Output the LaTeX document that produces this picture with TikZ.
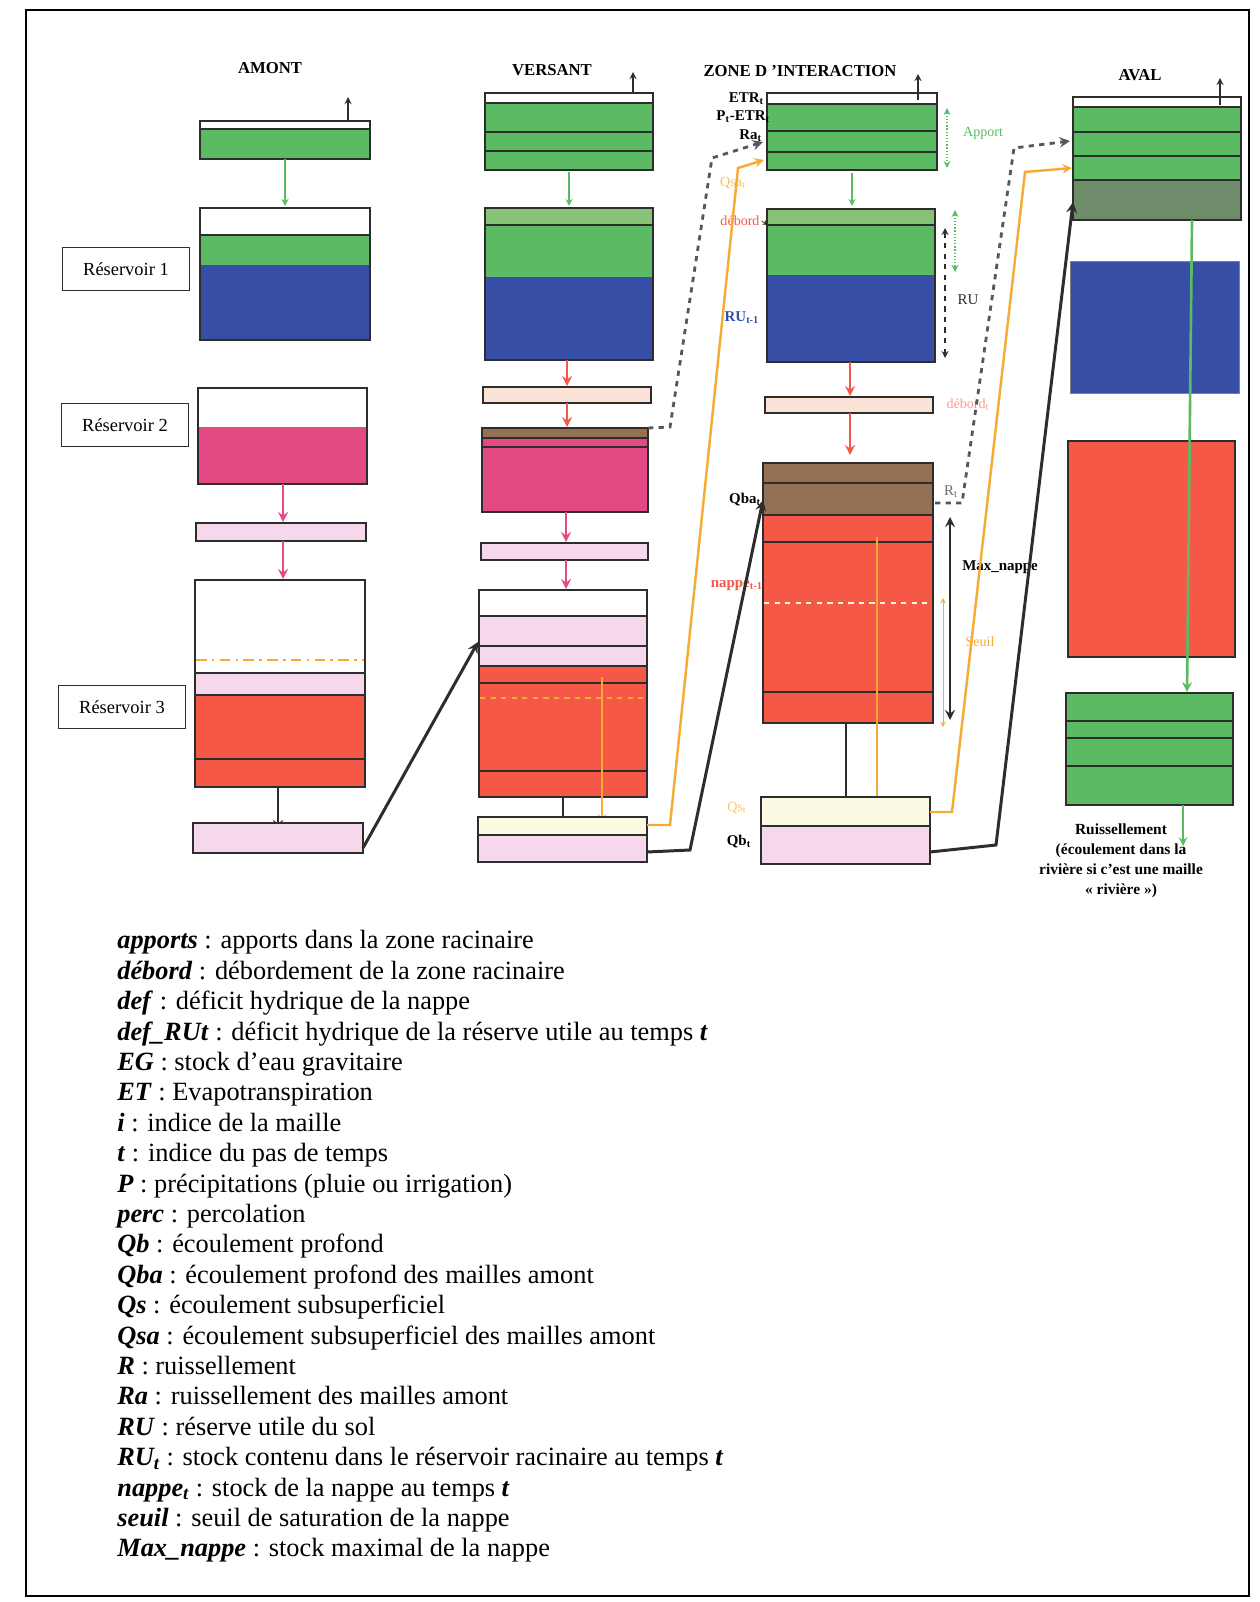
\documentclass[tikz,border=0pt]{standalone}
\usepackage{fontspec}
\setmainfont{Liberation Serif}
\usepackage{tikz}
\usetikzlibrary{arrows,positioning}

\definecolor{leaf}{RGB}{92,186,100}
\definecolor{leaflight}{RGB}{136,194,118}
\definecolor{moss}{RGB}{110,140,106}
\definecolor{soilblue}{RGB}{54,78,166}
\definecolor{fuchsia}{RGB}{226,74,132}
\definecolor{palepink}{RGB}{246,216,236}
\definecolor{tomato}{RGB}{246,88,72}
\definecolor{umber}{RGB}{150,112,82}
\definecolor{peach}{RGB}{250,226,214}
\definecolor{cream}{RGB}{252,250,226}
\definecolor{amber}{RGB}{246,172,52}
\definecolor{darkline}{RGB}{45,45,45}

\newcommand{\lgterm}[1]{\textbf{\textit{#1}}}

\begin{document}
\begin{tikzpicture}[x=0.02cm, y=-0.02cm,
  box/.style={draw=darkline, line width=1.1pt},
  sep/.style={draw=darkline, line width=1.1pt},
  flow/.style={-stealth, line width=1.7pt, darkline},
  title/.style={font=\fontsize{9.5}{11}\selectfont\bfseries},
  tag/.style={font=\fontsize{8.5}{10}\selectfont\bfseries, inner sep=1pt},
  resname/.style={draw=darkline, line width=1.1pt, minimum width=2.54cm, minimum height=0.86cm, font=\fontsize{10.5}{12}\selectfont},
  legend/.style={anchor=west, inner sep=0pt, font=\fontsize{15}{17}\selectfont, text height=1.6ex, text depth=0.4ex},
  note/.style={font=\fontsize{8.8}{11.4}\selectfont\bfseries, align=center}
]
\useasboundingbox (0,0) rectangle (1260,1602);
\draw[line width=0.6pt] (26,10) rectangle (1249,1596);

% titles
\node[title] (tamont) at (270,68) {AMONT};
\node[title] (tversant) at (552,70) {VERSANT};
\node[title] (tzone) at (800,71) {ZONE D 'INTERACTION};
\node[title] (taval) at (1140,75) {AVAL};

%%%%%%%%%%%%%%%% amont
\fill[leaf] (200,129) rectangle (370,159);
\draw[box] (200,121) rectangle (370,159);
\draw[sep] (200,129) -- (370,129);
\draw[-stealth, thick, darkline] (348,121) -- (348,97);
\draw[-stealth, leaf, thick] (285,159) -- (285,206);

\fill[leaf] (200,235) rectangle (370,265);
\fill[soilblue] (200,265) rectangle (370,340);
\draw[box] (200,208) rectangle (370,340);
\draw[sep] (200,235) -- (370,235);
\node[resname] (res1) at (126,269) {Réservoir 1};

\fill[fuchsia] (198,427) rectangle (367,484);
\draw[box] (198,388) rectangle (367,484);
\node[resname] (res2) at (125,425) {Réservoir 2};
\draw[-stealth, fuchsia, line width=1.5pt] (283,484) -- (283,522);
\fill[palepink] (196,523) rectangle (366,541);
\draw[box] (196,523) rectangle (366,541);
\draw[-stealth, fuchsia, line width=1.5pt] (283,541) -- (283,579);

\fill[palepink] (195,673) rectangle (365,695);
\fill[tomato] (195,695) rectangle (365,787);
\draw[box] (195,580) rectangle (365,787);
\draw[amber, line width=1pt, dash pattern=on 6pt off 3pt on 1.5pt off 3pt] (196,660) -- (364,660);
\draw[sep] (195,673) -- (365,673);
\draw[sep] (195,695) -- (365,695);
\draw[sep] (195,759) -- (365,759);
\node[resname] (res3) at (122,707) {Réservoir 3};
\draw[-stealth, darkline, line width=1.5pt] (278,787) -- (278,830);
\fill[palepink] (193,823) rectangle (363,853);
\draw[box] (193,823) rectangle (363,853);

%%%%%%%%%%%%%%%% versant
\fill[leaf] (485,103) rectangle (653,170);
\draw[box] (485,93) rectangle (653,170);
\draw[sep] (485,103) -- (653,103);
\draw[sep] (485,132) -- (653,132);
\draw[sep] (485,151) -- (653,151);
\draw[-stealth, thick, darkline] (633,93) -- (633,72);
\draw[-stealth, leaf, thick] (569,172) -- (569,206);

\fill[leaflight] (485,208) rectangle (653,225);
\fill[leaf] (485,225) rectangle (653,277);
\fill[soilblue] (485,277) rectangle (653,360);
\draw[box] (485,208) rectangle (653,360);
\draw[sep] (485,225) -- (653,225);
\draw[-stealth, tomato, line width=1.5pt] (567,360) -- (567,386);
\fill[peach] (483,387) rectangle (651,403);
\draw[box] (483,387) rectangle (651,403);
\draw[-stealth, tomato, line width=1.5pt] (567,403) -- (567,427);

\fill[umber] (482,428) rectangle (648,438);
\fill[fuchsia] (482,438) rectangle (648,512);
\draw[box] (482,428) rectangle (648,512);
\draw[sep] (482,438) -- (648,438);
\draw[sep] (482,447) -- (648,447);
\draw[-stealth, fuchsia, line width=1.5pt] (566,512) -- (566,542);
\fill[palepink] (481,543) rectangle (648,560);
\draw[box] (481,543) rectangle (648,560);
\draw[-stealth, fuchsia, line width=1.5pt] (566,560) -- (566,589);

\fill[palepink] (479,616) rectangle (647,666);
\fill[tomato] (479,666) rectangle (647,797);
\draw[box] (479,590) rectangle (647,797);
\draw[sep] (479,616) -- (647,616);
\draw[sep] (479,646) -- (647,646);
\draw[sep] (479,666) -- (647,666);
\draw[sep] (479,683) -- (647,683);
\draw[amber, line width=1pt, dashed] (480,698) -- (646,698);
\draw[sep] (479,771) -- (647,771);
\draw[-stealth, amber, line width=1.2pt] (602,677) -- (602,823);
\draw[-stealth, darkline, line width=1.5pt] (563,797) -- (563,833);
\fill[cream] (478,817) rectangle (647,835);
\fill[palepink] (478,835) rectangle (647,862);
\draw[box] (478,817) rectangle (647,862);
\draw[sep] (478,835) -- (647,835);

%%%%%%%%%%%%%%%% zone d'interaction
\fill[leaf] (767,104) rectangle (937,170);
\draw[box] (767,93) rectangle (937,170);
\draw[sep] (767,104) -- (937,104);
\draw[sep] (767,131) -- (937,131);
\draw[sep] (767,152) -- (937,152);
\draw[-stealth, thick, darkline] (918,100) -- (918,74);
\node[tag, anchor=east] (letr) at (766,99) {ETR\textsubscript{t}};
\node[tag, anchor=east] (lpetr) at (772,117) {P\textsubscript{t}-ETR\textsubscript{t}};
\node[tag, anchor=east] (lra) at (764,136) {Ra\textsubscript{t}};
\draw[stealth-stealth, leaf, densely dotted, thick] (947,108) -- (947,168);
\node[font=\fontsize{8}{10}\selectfont, text=leaf] (lapport) at (983,133) {Apport};
\draw[-stealth, leaf, thick] (852,173) -- (852,206);

\fill[leaflight] (767,209) rectangle (935,225);
\fill[leaf] (767,225) rectangle (935,275);
\fill[soilblue] (767,275) rectangle (935,362);
\draw[box] (767,209) rectangle (935,362);
\draw[sep] (767,225) -- (935,225);
\node[font=\fontsize{8}{10}\selectfont, text=amber!80] (lqsa) at (733,183) {Qsa\textsubscript{t}};
\node[font=\fontsize{8}{10}\selectfont, text=tomato, inner sep=1pt] (ldebord) at (740,221) {débord};
\draw[-stealth, darkline, thin] (ldebord.east) -- (768,225);
\node[tag, text=soilblue] (lru1) at (742,318) {RU\textsubscript{t-1}};
\draw[stealth-stealth, leaf, densely dotted, thick] (955,210) -- (955,272);
\draw[stealth-stealth, darkline, dashed, thick] (945,228) -- (945,358);
\node[font=\fontsize{8.5}{10}\selectfont, text=darkline] (lru) at (968,300) {RU};
\draw[-stealth, tomato, line width=1.5pt] (850,362) -- (850,396);
\fill[peach] (765,397) rectangle (933,413);
\draw[box] (765,397) rectangle (933,413);
\node[font=\fontsize{8}{10}\selectfont, text=tomato!60] (ldebt) at (968,405) {débord\textsubscript{t}};
\draw[-stealth, tomato, line width=1.5pt] (850,413) -- (850,455);

\fill[umber] (763,463) rectangle (933,515);
\fill[tomato] (763,515) rectangle (933,723);
\draw[box] (763,463) rectangle (933,723);
\draw[sep] (763,483) -- (933,483);
\draw[sep] (763,515) -- (933,515);
\draw[sep] (763,542) -- (933,542);
\draw[cream, line width=1pt, dashed] (764,603) -- (932,603);
\draw[sep] (763,692) -- (933,692);
\node[tag, anchor=east] (lqba) at (763,500) {Qba\textsubscript{t}};
\node[tag, anchor=east, text=tomato] (lnappe) at (765,586) {nappe\textsubscript{t-1}};
\node[font=\fontsize{8.5}{10}\selectfont, text=darkline!70] (lr) at (951,492) {R\textsubscript{t}};
\draw[stealth-stealth, line width=1.5pt, darkline] (950,517) -- (950,720);
\node[tag] (lmax) at (1000,567) {Max\_nappe};
\draw[stealth-stealth, amber, thin] (943,598) -- (943,727);
\node[font=\fontsize{8}{10}\selectfont, text=amber] (lseuil) at (980,642) {Seuil};
\draw[-stealth, amber, line width=1.2pt] (877,537) -- (877,812);
\draw[-stealth, darkline, line width=1.5pt] (846,723) -- (846,835);

\fill[cream] (761,797) rectangle (930,826);
\fill[palepink] (761,826) rectangle (930,864);
\draw[box] (761,797) rectangle (930,864);
\draw[sep] (761,826) -- (930,826);
\node[font=\fontsize{8}{10}\selectfont, text=amber!70] (lqs) at (737,808) {Qs\textsubscript{t}};
\node[tag] (lqb) at (739,842) {Qb\textsubscript{t}};

%%%%%%%%%%%%%%%% aval
\fill[leaf] (1073,107) rectangle (1241,180);
\fill[moss] (1073,180) rectangle (1241,220);
\draw[box] (1073,97) rectangle (1241,220);
\draw[sep] (1073,107) -- (1241,107);
\draw[sep] (1073,132) -- (1241,132);
\draw[sep] (1073,156) -- (1241,156);
\draw[sep] (1073,180) -- (1241,180);
\draw[-stealth, thick, darkline] (1220,105) -- (1220,78);

\fill[soilblue] (1070,261) rectangle (1239,393);
\draw[draw=darkline!60, thin] (1070,261) rectangle (1239,393);
\fill[tomato] (1068,441) rectangle (1235,657);
\draw[box] (1068,441) rectangle (1235,657);
\fill[leaf] (1066,693) rectangle (1233,805);
\draw[box] (1066,693) rectangle (1233,805);
\draw[sep] (1066,721) -- (1233,721);
\draw[sep] (1066,738) -- (1233,738);
\draw[sep] (1066,766) -- (1233,766);
\draw[-stealth, leaf, line width=1.5pt] (1192,220) -- (1187,692);
\draw[-stealth, leaf, line width=1.2pt] (1183,805) -- (1183,846);
\node[note] (lruis) at (1121,861) {Ruissellement\\(écoulement dans la\\rivière si c’est une maille\\« rivière »)};

%%%%%%%%%%%%%%%% flows between columns
\coordinate (am3out) at (363,848);
\coordinate (ve3in) at (478,642);
\draw[flow] (am3out) -- (ve3in);

\coordinate (ve2out) at (648,428);
\coordinate (zrain) at (763,142);
\draw[-stealth, line width=1.6pt, darkline!80, dashed] (ve2out) -- (670,427) -- (712,158) -- (zrain);

\coordinate (veqs) at (647,825);
\coordinate (zqsin) at (764,160);
\draw[-stealth, amber, line width=1.4pt] (veqs) -- (670,825) -- (738,168) -- (zqsin);

\coordinate (veqb) at (647,852);
\coordinate (zqbin) at (763,500);
\draw[flow] (veqb) -- (690,850) -- (zqbin);

\coordinate (zrout) at (935,503);
\coordinate (avrin) at (1070,141);
\draw[-stealth, line width=1.6pt, darkline!80, dashed] (zrout) -- (962,503) -- (1014,148) -- (avrin);

\coordinate (zqsout) at (930,812);
\coordinate (avqsin) at (1072,168);
\draw[-stealth, amber, line width=1.4pt] (zqsout) -- (952,812) -- (1025,172) -- (avqsin);

\coordinate (zqbout) at (930,852);
\coordinate (avqbin) at (1073,202);
\draw[flow] (zqbout) -- (996,845) -- (avqbin);

%%%%%%%%%%%%%%%% legend
\node[legend] (lg1) at (117,944) {\lgterm{apports} : apports dans la zone racinaire};
\node[legend] (lg2) at (117,974.4) {\lgterm{débord} : débordement de la zone racinaire};
\node[legend] (lg3) at (117,1004.8) {\lgterm{def} : déficit hydrique de la nappe};
\node[legend] (lg4) at (117,1035.2) {\lgterm{def\_RUt} : déficit hydrique de la réserve utile au temps \lgterm{t}};
\node[legend] (lg5) at (117,1065.6) {\lgterm{EG} : stock d’eau gravitaire};
\node[legend] (lg6) at (117,1096) {\lgterm{ET} : Evapotranspiration};
\node[legend] (lg7) at (117,1126.4) {\lgterm{i} : indice de la maille};
\node[legend] (lg8) at (117,1156.8) {\lgterm{t} : indice du pas de temps};
\node[legend] (lg9) at (117,1187.2) {\lgterm{P} : précipitations (pluie ou irrigation)};
\node[legend] (lg10) at (117,1217.6) {\lgterm{perc} : percolation};
\node[legend] (lg11) at (117,1248) {\lgterm{Qb} : écoulement profond};
\node[legend] (lg12) at (117,1278.4) {\lgterm{Qba} : écoulement profond des mailles amont};
\node[legend] (lg13) at (117,1308.8) {\lgterm{Qs} : écoulement subsuperficiel};
\node[legend] (lg14) at (117,1339.2) {\lgterm{Qsa} : écoulement subsuperficiel des mailles amont};
\node[legend] (lg15) at (117,1369.6) {\lgterm{R} : ruissellement};
\node[legend] (lg16) at (117,1400) {\lgterm{Ra} : ruissellement des mailles amont};
\node[legend] (lg17) at (117,1430.4) {\lgterm{RU} : réserve utile du sol};
\node[legend] (lg18) at (117,1460.8) {\lgterm{RU\textsubscript{t}} : stock contenu dans le réservoir racinaire au temps \lgterm{t}};
\node[legend] (lg19) at (117,1491.2) {\lgterm{nappe\textsubscript{t}} : stock de la nappe au temps \lgterm{t}};
\node[legend] (lg20) at (117,1521.6) {\lgterm{seuil} : seuil de saturation de la nappe};
\node[legend] (lg21) at (117,1552) {\lgterm{Max\_nappe} : stock maximal de la nappe};
\end{tikzpicture}
\end{document}
